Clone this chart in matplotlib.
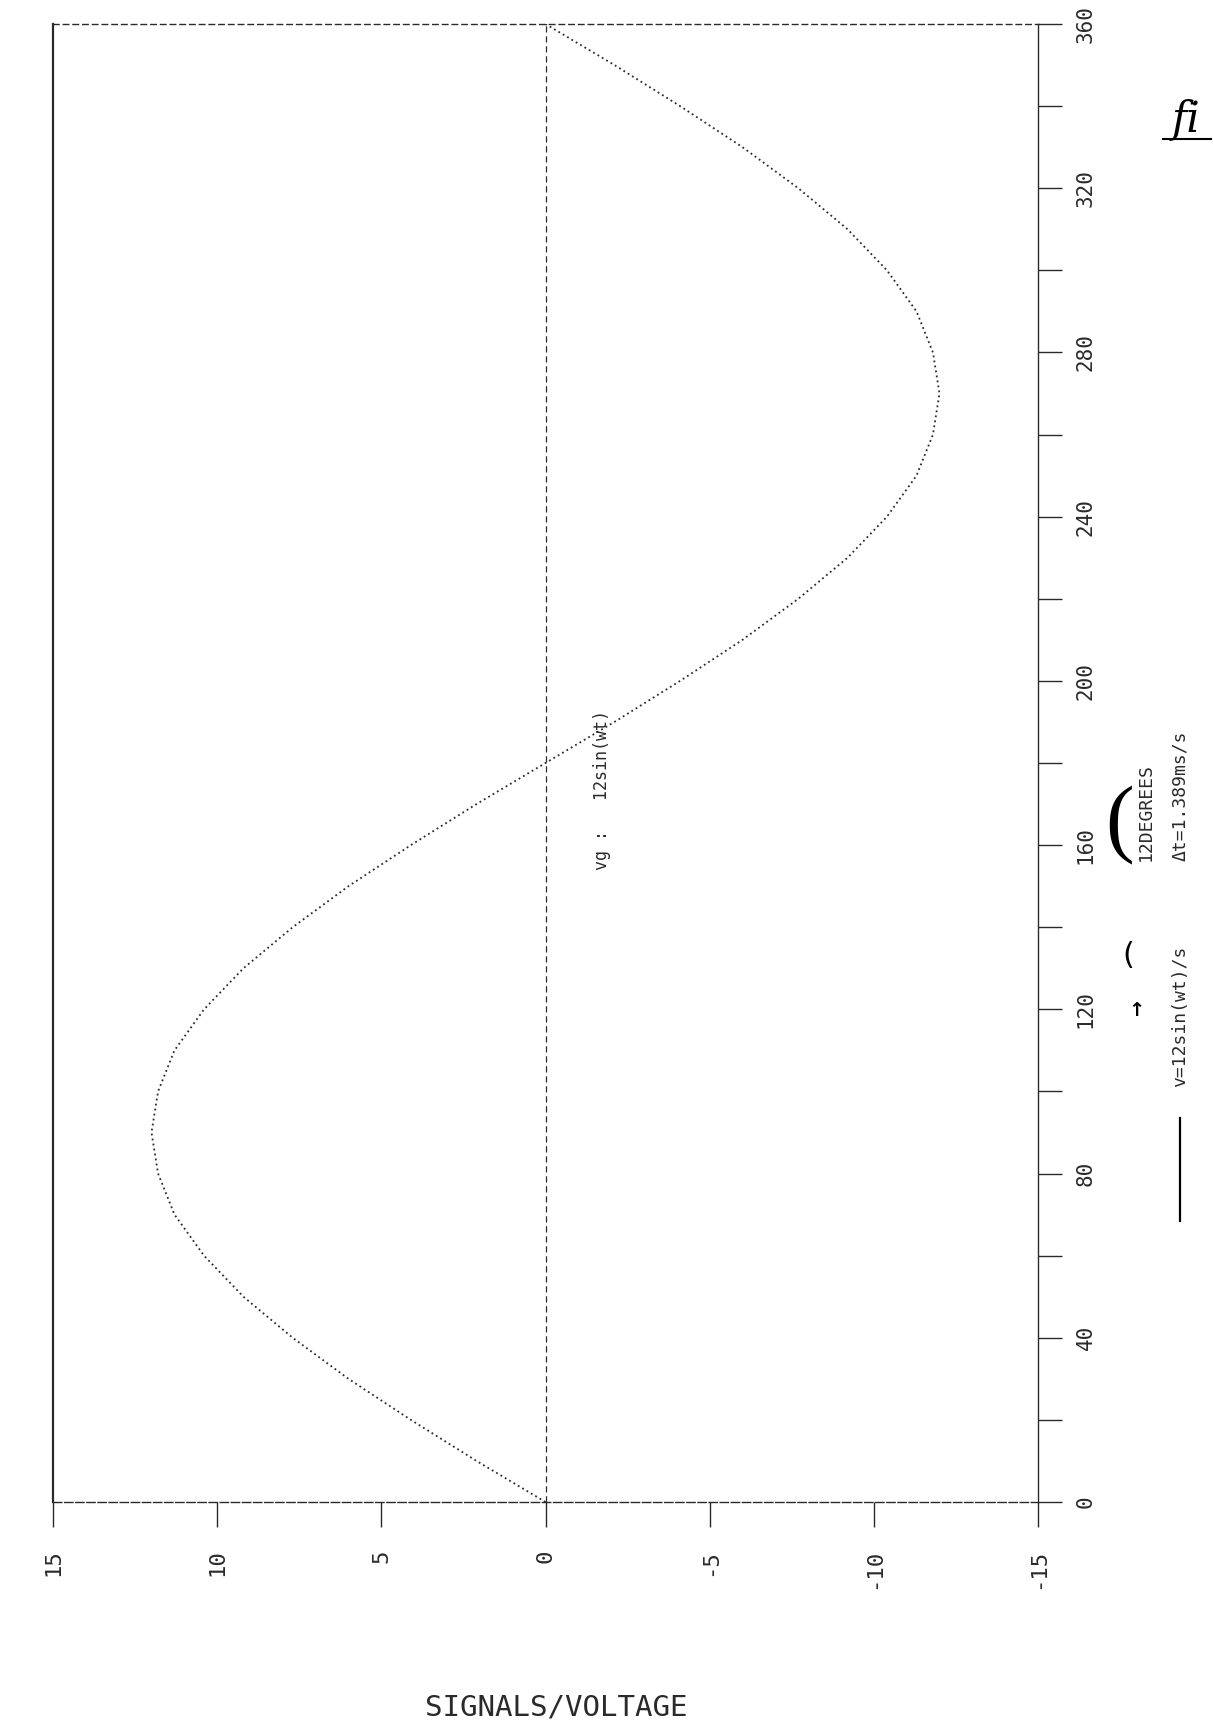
import numpy as np
import matplotlib
matplotlib.use("Agg")
import matplotlib.pyplot as plt
from matplotlib.lines import Line2D
from matplotlib.ticker import MultipleLocator

angle_deg = list(range(0, 365, 10))
voltage = [0.0, 2.1, 4.1, 6.0, 7.7, 9.2, 10.4, 11.3, 11.8, 12.0,
           11.8, 11.3, 10.4, 9.2, 7.7, 6.0, 4.1, 2.1, 0.0,
           -2.1, -4.1, -6.0, -7.7, -9.2, -10.4, -11.3, -11.8, -12.0,
           -11.8, -11.3, -10.4, -9.2, -7.7, -6.0, -4.1, -2.1, 0.0]

v_ticks = [15, 10, 5, 0, -5, -10, -15]
v_labels = ["15", "10", "5", "0", "-5", "-10", "-15"]
deg_ticks = list(range(0, 361, 40))
deg_labels = [str(d) for d in deg_ticks]

W, H = 1213, 1732
fig = plt.figure(figsize=(W / 100, H / 100), dpi=100)
fig.patch.set_facecolor("white")

def fx(px):
    return px / W

def fy(py):
    return 1 - py / H

left, right, top, bottom = 53, 1038, 24, 1502
ax = fig.add_axes([fx(left), fy(bottom), fx(right - left), (bottom - top) / H])

ink = "#2a2a2a"
mono = "DejaVu Sans Mono"

# curve: voltage runs horizontally (reversed), angle runs upward
ax.plot(voltage, angle_deg, color=ink, lw=1.3, ls=(0, (1, 1.8)))
ax.axvline(0, color=ink, lw=0.9, ls=(0, (5, 3)))

ax.set_xlim(15, -15)
ax.set_ylim(0, 360)

for s in ax.spines.values():
    s.set_color(ink)
    s.set_linewidth(1.0)
ax.spines["left"].set_linewidth(1.6)
ax.spines["top"].set_linestyle((0, (4, 3)))
ax.spines["bottom"].set_linestyle((0, (6, 2)))

ax.set_xticks(v_ticks)
ax.set_xticklabels(v_labels, rotation=90, family=mono, fontsize=16, color=ink)
ax.tick_params(axis="x", direction="out", length=18, width=1, color=ink, pad=16)

ax.yaxis.tick_right()
ax.set_yticks(deg_ticks)
ax.set_yticklabels(deg_labels, rotation=90, family=mono, fontsize=15, color=ink,
                   va="center")
ax.yaxis.set_minor_locator(MultipleLocator(20))
ax.tick_params(axis="y", which="both", direction="out", length=17, width=1,
               color=ink, pad=10)

# annotations (rotated like the scan)
fig.text(fx(602), fy(790), "vg :   12sin(wt)", rotation=90, family=mono,
         fontsize=12, color=ink, ha="center", va="center")

# legend, drawn by hand as on the sheet
fig.add_artist(Line2D([fx(1180), fx(1180)], [fy(1118), fy(1221)],
                      color="black", lw=1.6))
fig.text(fx(1180), fy(1016), "v=12sin(wt)/s", rotation=90, family=mono,
         fontsize=13, color=ink, ha="center", va="center")
fig.text(fx(1180), fy(796), "\u0394t=1.389ms/s", rotation=90, family=mono,
         fontsize=13, color=ink, ha="center", va="center")
fig.text(fx(1146), fy(812), "12DEGREES", rotation=90, family=mono,
         fontsize=13, color=ink, ha="center", va="center")

# pen marks
fig.text(fx(1120), fy(825), "(", fontsize=62, family="Liberation Serif",
         color="black", ha="center", va="center")
fig.text(fx(1128), fy(955), "(", fontsize=22, color="black",
         ha="center", va="center")
fig.text(fx(1136), fy(1010), "\u2191", fontsize=14, color="black",
         ha="center", va="center", fontweight="bold")

fig.text(fx(1172), fy(120), "fi", fontsize=30, style="italic",
         family="DejaVu Serif", color="black", ha="left", va="center")
fig.add_artist(Line2D([fx(1163), fx(1211)], [fy(139), fy(139)],
                      color="black", lw=1.5))

fig.text(fx(556), fy(1707), "SIGNALS/VOLTAGE", family=mono, fontsize=21,
         color=ink, ha="center", va="center")

fig.savefig("out.png", dpi=100, facecolor="white")
